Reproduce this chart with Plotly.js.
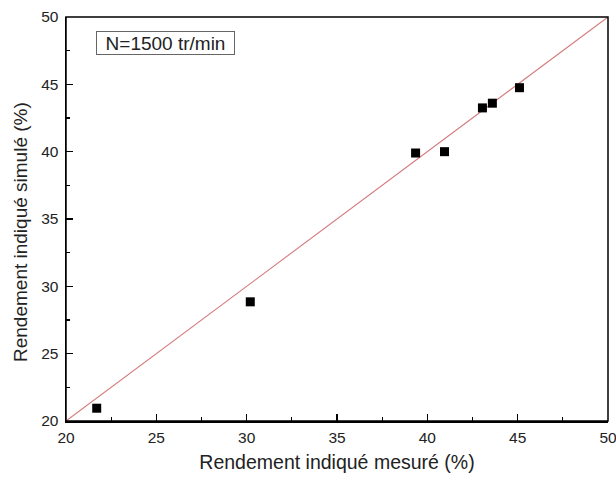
<!DOCTYPE html>
<html><head><meta charset="utf-8">
<script src="https://cdn.plot.ly/plotly-3.0.1.min.js"></script>
<style>html,body{margin:0;padding:0;background:#fff}</style>
</head><body><div id="chart" style="width:616px;height:477px"></div>
<script>
const measured = [21.7, 30.2, 39.35, 40.95, 43.05, 43.6, 45.1];
const simulated = [20.95, 28.85, 39.9, 40.0, 43.25, 43.6, 44.75];
const lineX = [20, 50];
const lineY = [20, 50];
const annotationText = 'N=1500 tr/min';
const xTitle = 'Rendement indiqué mesuré (%)';
const yTitle = 'Rendement indiqué simulé (%)';

const FONT = 'Liberation Sans, Arial, sans-serif';
const axisCommon = {
  range: [20, 50], dtick: 5, tick0: 20,
  ticks: 'inside', ticklen: 7, tickwidth: 1.3, tickcolor: '#000',
  showline: true, linecolor: '#000', linewidth: 1.5, mirror: false,
  showgrid: false, zeroline: false, ticklabeloverflow: 'allow',
  tickfont: {family: FONT, size: 15.5, color: '#222'},
  minor: {ticks: 'inside', ticklen: 4, tickwidth: 1.2, tickcolor: '#000', dtick: 2.5}
};

const data = [
  {x: lineX, y: lineY, mode: 'lines', line: {color: '#d47a7a', width: 1.1}, hoverinfo: 'skip', showlegend: false},
  {x: measured, y: simulated, mode: 'markers', marker: {symbol: 'square', size: 9, color: '#000'}, showlegend: false}
];
const layout = {
  width: 616, height: 477,
  margin: {l: 66, r: 8, t: 17, b: 56},
  paper_bgcolor: '#fff', plot_bgcolor: '#fff',
  xaxis: Object.assign({}, axisCommon, {ticklabelstandoff: 2, title: {text: xTitle, standoff: 10, font: {family: FONT, size: 19.5, color: '#222'}}}),
  yaxis: Object.assign({}, axisCommon, {ticklabelstandoff: 3}),
  shapes: [{type: 'rect', xref: 'paper', yref: 'paper', x0: 0, x1: 1, y0: 0, y1: 1, line: {color: '#000', width: 1.5}}],
  annotations: [{
    xref: 'paper', yref: 'paper', x: (96 - 66) / 542, y: 1 - (31 - 17) / 404, xanchor: 'left', yanchor: 'top',
    text: annotationText, showarrow: false, width: 135, height: 20, align: 'center',
    font: {family: FONT, size: 19, color: '#222'},
    bordercolor: '#666', borderwidth: 1, borderpad: 1, bgcolor: '#fff'
  }, {
    xref: 'paper', yref: 'paper', x: (20 - 66) / 542, y: 1 - (232 - 17) / 404, xanchor: 'center', yanchor: 'middle',
    text: yTitle, textangle: -90, showarrow: false,
    font: {family: FONT, size: 19, color: '#222'}
  }]
};
Plotly.newPlot('chart', data, layout, {displayModeBar: false, staticPlot: true});
</script></body></html>
